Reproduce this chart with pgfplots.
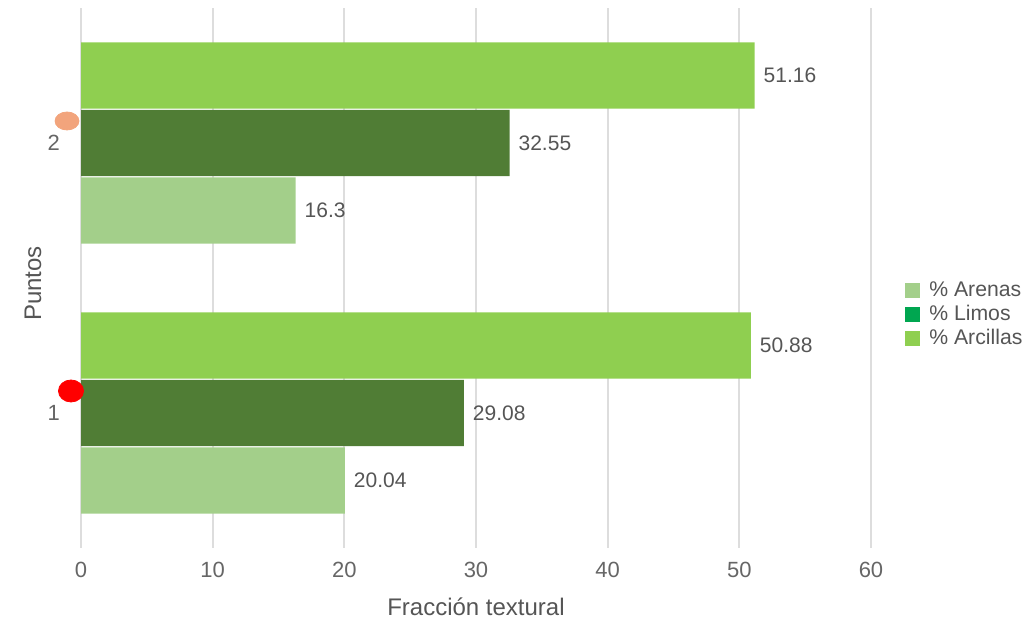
\documentclass[border=0pt]{standalone}
\usepackage{pgfplots}
\pgfplotsset{compat=1.18}
\usepackage{fontspec}
\setmainfont{Liberation Sans}
\definecolor{arenas}{HTML}{A3CF8A}
\definecolor{limos}{HTML}{507D35}
\definecolor{limosleg}{HTML}{00A650}
\definecolor{arcillas}{HTML}{8FCF50}
\definecolor{gridc}{HTML}{DDDDDD}
\definecolor{txt}{HTML}{666666}
\definecolor{lbl}{HTML}{555555}
\definecolor{pt2}{HTML}{F2A47C}
\begin{document}
\begin{tikzpicture}
\begin{axis}[
  scale only axis, width=395pt, height=270pt,
  xbar, bar width=0.245,
  xmin=0, xmax=60, ymin=0.5, ymax=2.5,
  xtick={0,10,...,60}, ytick={1,2},
  xmajorgrids, major grid style={gridc, line width=1pt},
  axis line style={draw=none}, tick style={draw=none},
  /pgf/number format/assume math mode=true,
  ticklabel style={font=\fontsize{11}{13}\selectfont, text=txt},
  xticklabel style={yshift=-3.6pt},
  yticklabel style={xshift=-2.8pt},
  xlabel={Fracción textural}, ylabel={Puntos},
  label style={font=\fontsize{12}{14}\selectfont, text=lbl},
  xlabel style={at={(axis description cs:0.5,0)}, anchor=center, yshift=-29.5pt},
  ylabel style={at={(axis description cs:-0.0608,0.49)}, anchor=center},
  nodes near coords,
  nodes near coords style={font=\fontsize{10.5}{12}\selectfont, text=lbl, anchor=west, xshift=1pt},
  clip=false,
  legend style={at={(axis description cs:1.043,0.4315)}, anchor=west, draw=none, fill=none,
    inner sep=0pt, font=\fontsize{10.6}{12}\selectfont, text=lbl,
    nodes={inner sep=1.5pt, text height=7.2pt, text depth=1.8pt}},
  legend cell align=left,
  legend image code/.code={\fill[#1, draw=none] (0pt,-3.75pt) rectangle (7.5pt,3.75pt); \path[draw=none, fill=none] (7.5pt,0pt) -- (10.5pt,0pt);},
]
\addplot[forget plot, draw=none, fill=arenas, bar shift=-0.25] coordinates {(20.04,1) (16.3,2)};
\addplot[forget plot, draw=none, fill=limos, bar shift=0] coordinates {(29.08,1) (32.55,2)};
\addplot[forget plot, draw=none, fill=arcillas, bar shift=0.25] coordinates {(50.88,1) (51.16,2)};
\addplot[forget plot, only marks, color=pt2, mark=*, mark size=4.5pt, mark options={xscale=1.33, draw=pt2, fill=pt2}, nodes near coords={}] coordinates {(-1.063,2.0815)};
\addplot[forget plot, only marks, color=red, mark=*, mark size=5.5pt, mark options={xscale=1.14, draw=red, fill=red}, nodes near coords={}] coordinates {(-0.76,1.0815)};
\addlegendimage{fill=arenas}
\addlegendentry{\% Arenas}
\addlegendimage{fill=limosleg}
\addlegendentry{\% Limos}
\addlegendimage{fill=arcillas}
\addlegendentry{\% Arcillas}
\end{axis}
\pgfresetboundingbox
\path[use as bounding box] (-40.5pt,-38.5pt) rectangle (473.5pt,274pt);
\end{tikzpicture}
\end{document}
